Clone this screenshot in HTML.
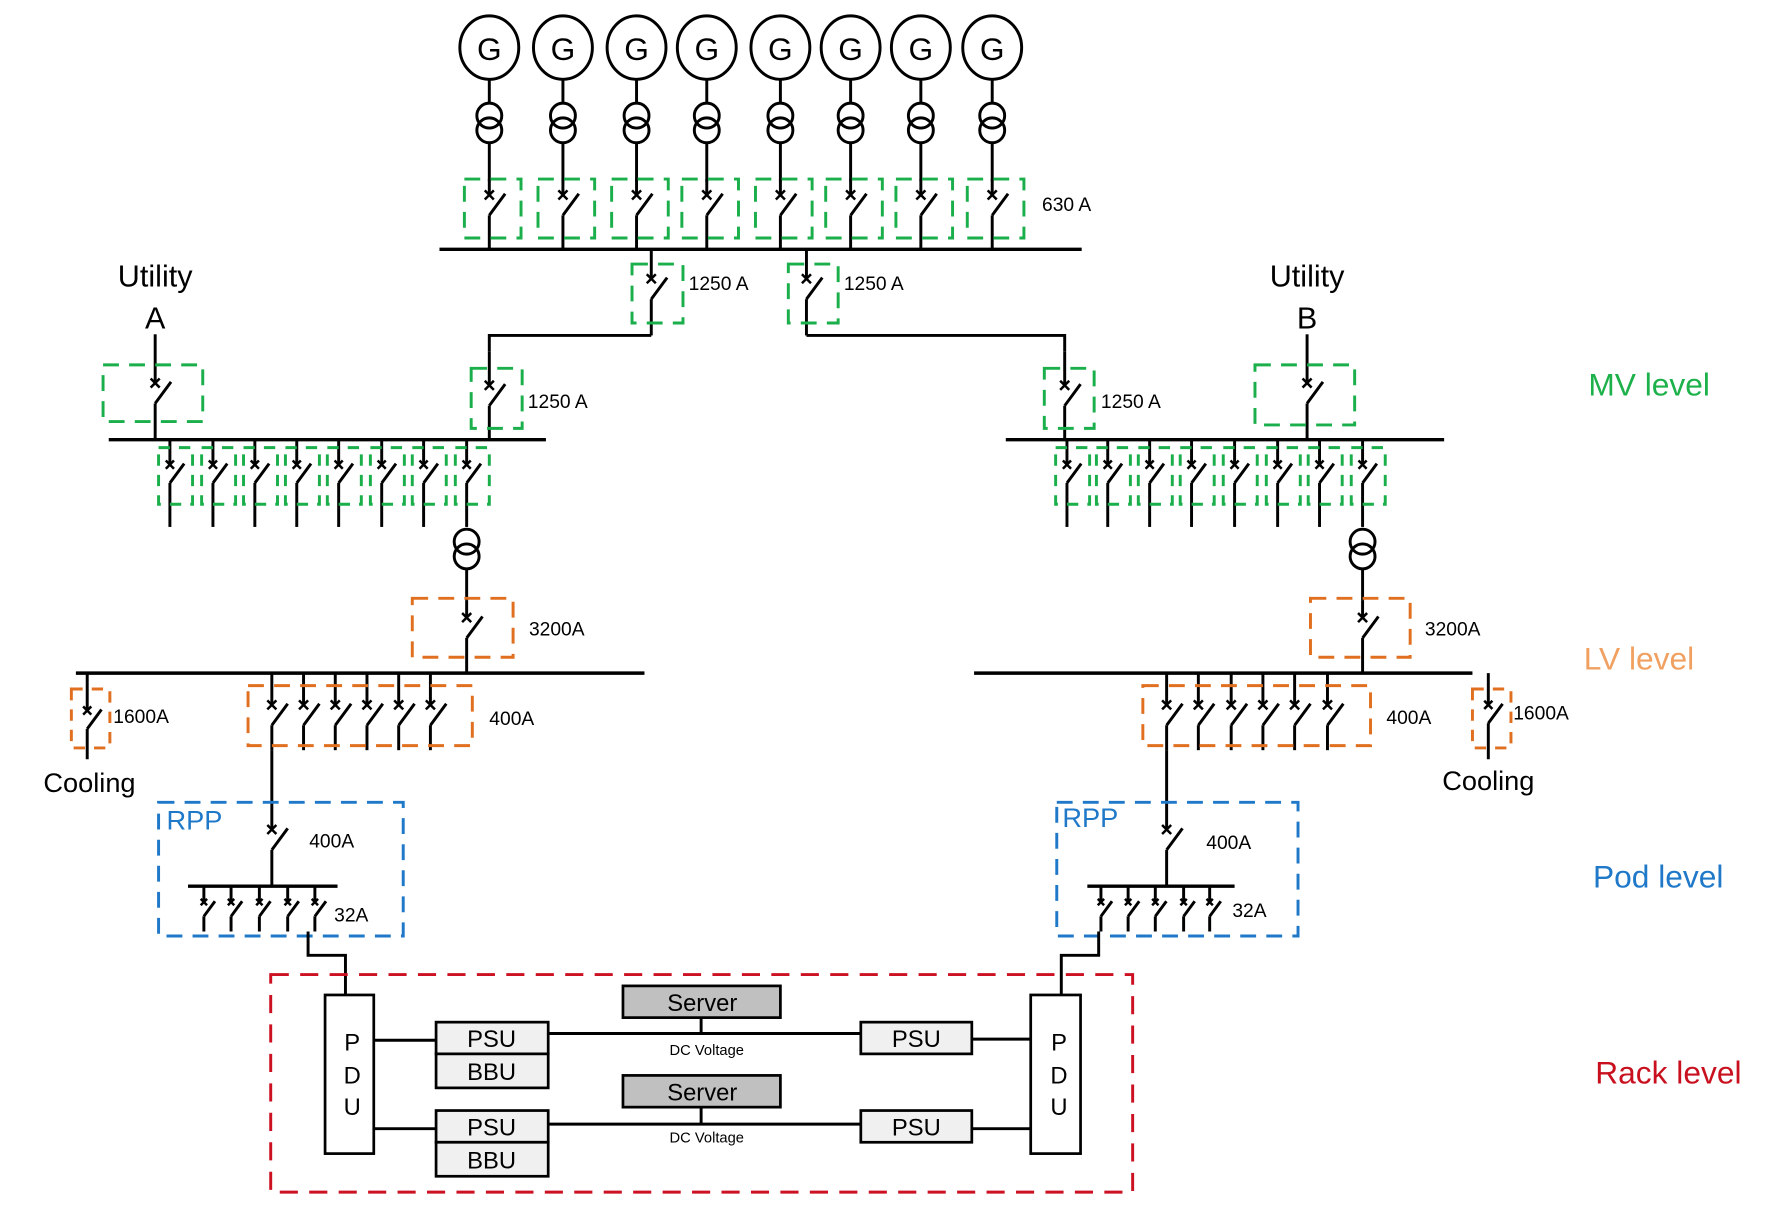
<!DOCTYPE html>
<html><head><meta charset="utf-8"><style>
html,body{margin:0;padding:0;background:#fff}
svg{display:block}
text{font-family:"Liberation Sans",Arial,sans-serif;fill:#000}
</style></head><body>
<svg id="s" width="1776" height="1208" viewBox="0 0 1568 1066" preserveAspectRatio="none" xmlns="http://www.w3.org/2000/svg">
<g id="g" stroke="#000" stroke-width="2.6" fill="none"></g>
<g font-size="17">
<text x="920" y="186">630 A</text>
<text x="608" y="256">1250 A</text>
<text x="745" y="256">1250 A</text>
<text x="466" y="360">1250 A</text>
<text x="972" y="360">1250 A</text>
<text x="467" y="561">3200A</text>
<text x="1258" y="561">3200A</text>
<text x="100" y="638">1600A</text>
<text x="1336" y="635">1600A</text>
<text x="432" y="640">400A</text>
<text x="1224" y="639">400A</text>
<text x="273" y="748">400A</text>
<text x="1065" y="749">400A</text>
<text x="295" y="813">32A</text>
<text x="1088" y="809">32A</text>
</g>
<g font-size="27" text-anchor="middle">
<text x="137" y="253">Utility</text><text x="137" y="290">A</text>
<text x="1154" y="253">Utility</text><text x="1154" y="290">B</text>
</g>
<g font-size="24" text-anchor="middle">
<text x="79" y="699">Cooling</text><text x="1314" y="697">Cooling</text>
</g>
<g font-size="28" text-anchor="middle">
<text x="432" y="53">G</text><text x="497" y="53">G</text><text x="562" y="53">G</text><text x="624" y="53">G</text>
<text x="689" y="53">G</text><text x="751" y="53">G</text><text x="813" y="53">G</text><text x="876" y="53">G</text>
</g>
<g font-size="24">
<text x="147" y="732" style="fill:#1f78c8">RPP</text>
<text x="938" y="730" style="fill:#1f78c8">RPP</text>
</g>
<g font-size="28" text-anchor="middle">
<text x="1456" y="349" style="fill:#1db14b">MV level</text>
<text x="1447" y="591" style="fill:#f0a060">LV level</text>
<text x="1464" y="783" style="fill:#1f78c8">Pod level</text>
<text x="1473" y="956" style="fill:#c8101e">Rack level</text>
</g>
<g id="rack" stroke="#000" stroke-width="2.4">
<rect x="287" y="878" width="43" height="140" fill="#fff"/>
<rect x="910" y="878" width="44" height="140" fill="#fff"/>
<rect x="385" y="902" width="99" height="28" fill="#f0f0f0"/>
<rect x="385" y="930" width="99" height="30" fill="#f0f0f0"/>
<rect x="385" y="980" width="99" height="28" fill="#f0f0f0"/>
<rect x="385" y="1008" width="99" height="30" fill="#f0f0f0"/>
<rect x="760" y="902" width="98" height="28" fill="#f0f0f0"/>
<rect x="760" y="980" width="98" height="28" fill="#f0f0f0"/>
<rect x="550" y="870" width="139" height="28" fill="#c0c0c0"/>
<rect x="550" y="949" width="139" height="28" fill="#c0c0c0"/>
</g>
<g font-size="21" text-anchor="middle">
<text x="311" y="927">P</text><text x="311" y="956">D</text><text x="311" y="984">U</text>
<text x="935" y="927">P</text><text x="935" y="956">D</text><text x="935" y="984">U</text>
<text x="434" y="924">PSU</text><text x="434" y="953">BBU</text>
<text x="434" y="1002">PSU</text><text x="434" y="1031">BBU</text>
<text x="809" y="924">PSU</text><text x="809" y="1002">PSU</text>
<text x="620" y="892">Server</text><text x="620" y="971">Server</text>
</g>
<g font-size="13" text-anchor="middle">
<text x="624" y="931">DC Voltage</text><text x="624" y="1008">DC Voltage</text>
</g>
<script>
var g=document.getElementById('g'),NS='http://www.w3.org/2000/svg';
function el(t,a){var e=document.createElementNS(NS,t);for(var k in a)e.setAttribute(k,a[k]);g.appendChild(e);return e;}
function L(x1,y1,x2,y2,w){el('line',{x1:x1,y1:y1,x2:x2,y2:y2,'stroke-width':w||2.6});}
function P(d){el('path',{d:d});}
function box(x1,y1,x2,y2,c,da){el('rect',{x:x1,y:y1,width:x2-x1,height:y2-y1,stroke:c,'stroke-dasharray':da||'14,9','stroke-width':2.6});}
function brk(x,ty,cy,by,s){s=s||1;L(x,ty,x,cy);var c=4*s;L(x-c,cy-c,x+c,cy+c,2.2);L(x-c,cy+c,x+c,cy-c,2.2);
var b0=cy+18*s;L(x,b0,x+14*s,b0-19*s);L(x,b0,x,by);}
function xf(x,y){el('circle',{cx:x,cy:y,r:11});el('circle',{cx:x,cy:y+13,r:11});}
var G='#1aaf4b',O='#e07020',B='#1f78c8',R='#cc1122';
[432,497,562,624,689,751,813,876].forEach(function(x){
 el('ellipse',{cx:x,cy:42,rx:26,ry:28});L(x,70,x,91);xf(x,102);L(x,126,x,160);
 brk(x,158,172,220);box(x-22,158,x+28,210,G);});
L(388,220,955,220,3);
brk(575,220,246,296);box(558,233,603,285,G);
brk(712,220,246,296);box(696,233,740,285,G);
P('M575 296H432V310');P('M712 296H940V310');
brk(432,310,340,388);box(416,325,461,378,G);
brk(940,310,340,388);box(922,325,966,378,G);
brk(137,295,338,388);box(91,322,179,372,G);
brk(1154,295,338,388);box(1108,322,1196,375,G);
L(96,388,482,388,3);L(888,388,1275,388,3);
[150,188,225,262,299,337,374,412].forEach(function(x){brk(x,388,410,465,0.9);box(x-10,395,x+20,445,G,'10,8');});
[942,978,1015,1052,1090,1128,1165,1203].forEach(function(x){brk(x,388,410,465,0.9);box(x-10,395,x+20,445,G,'10,8');});
xf(412,478);L(412,502,412,530);brk(412,530,545,594);box(364,528,453,580,O);
xf(1203,478);L(1203,502,1203,530);brk(1203,530,545,594);box(1157,528,1245,580,O);
L(67,594,569,594,3);L(860,594,1300,594,3);
brk(77,594,627,670,0.9);box(63,608,97,660,O,'10,8');
brk(1314,594,622,670,0.9);box(1300,608,1334,660,O,'10,8');
[240,268,296,324,352,380].forEach(function(x){brk(x,594,622,662);});box(219,605,417,658,O);
[1030,1058,1087,1115,1143,1172].forEach(function(x){brk(x,594,622,662);});box(1009,605,1210,658,O);
brk(240,662,732,782);L(166,782,298,782,3);box(140,708,356,826,B);
[180,204,229,254,278].forEach(function(x){brk(x,782,796,822,0.7);});
brk(1030,662,732,782);L(960,782,1090,782,3);box(933,708,1146,826,B);
[972,996,1020,1045,1068].forEach(function(x){brk(x,782,796,822,0.7);});
P('M272 822V843H305V878');P('M970 822V843H937V878');
box(239,860,1000,1052,R,'16,10');
L(330,918,385,918);L(330,996,385,996);
L(484,912,760,912);L(484,992,760,992);
L(619,898,619,912);L(619,977,619,992);
L(858,917,910,917);L(858,996,910,996);
</script>
</svg>
</body></html>
